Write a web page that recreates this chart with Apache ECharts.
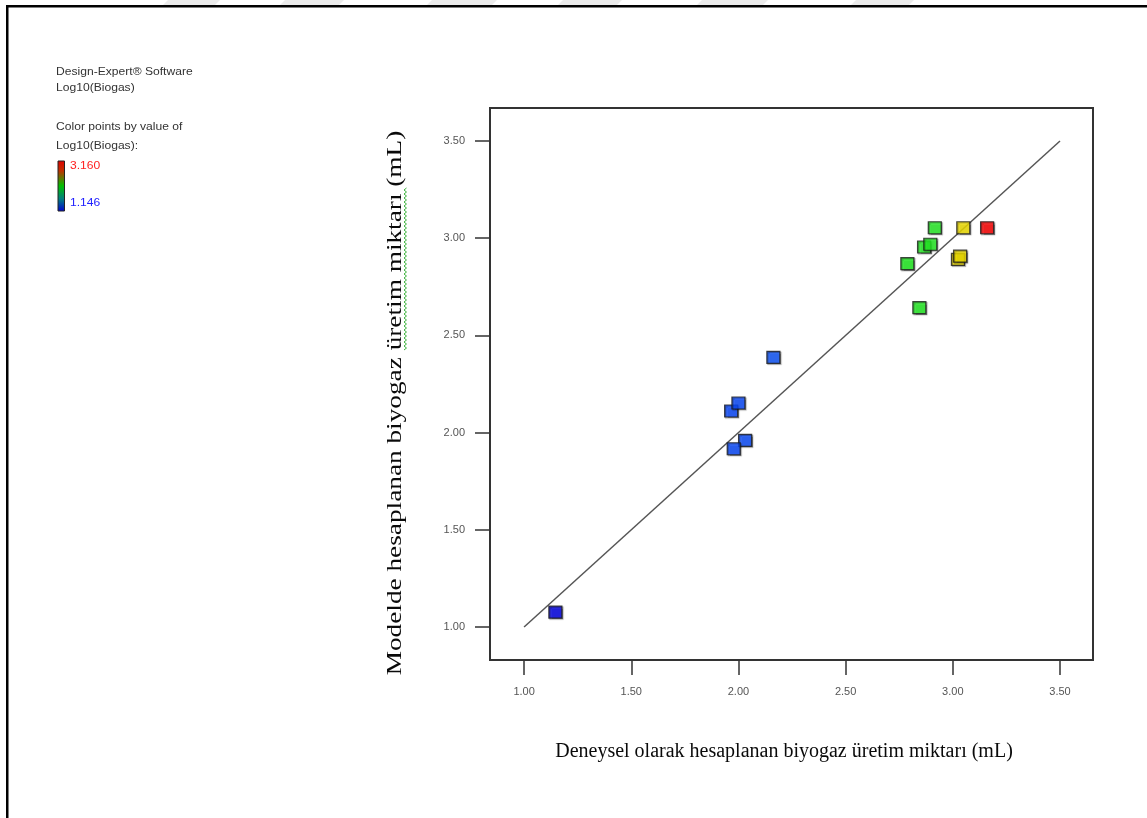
<!DOCTYPE html>
<html>
<head>
<meta charset="utf-8">
<script src="https://cdn.jsdelivr.net/npm/echarts@6/dist/echarts.min.js"></script>
<style>
  html, body { margin: 0; padding: 0; background: #ffffff; }
  #chart { width: 1147px; height: 818px; }
</style>
</head>
<body>
<div id="chart"></div>
<script>
// Log10(Biogas): experimental (x) vs. model-predicted (y)
const observed  = [1.146, 2.031, 1.978, 1.966, 2.000, 2.163, 2.788, 2.844, 2.866, 2.895, 2.916, 3.024, 3.034, 3.049, 3.160];
const predicted = [1.076, 1.960, 1.917, 2.111, 2.152, 2.387, 2.869, 2.643, 2.955, 2.969, 3.054, 2.891, 2.908, 3.054, 3.054];

// 1:1 reference line
const refLineX = [1.0, 3.5];
const refLineY = [1.0, 3.5];

// Axis ticks
const tickValues = [1.0, 1.5, 2.0, 2.5, 3.0, 3.5];
const tickLabels = ['1.00', '1.50', '2.00', '2.50', '3.00', '3.50'];

// Colour scale range
const colorMinLabel = '1.146';
const colorMaxLabel = '3.160';

// Colour ramp stops (value, colour)
const rampValues = [1.146, 1.95, 2.2, 2.7, 2.93, 3.0, 3.06, 3.16];
const rampColors = ['#0000e6', '#0848ff', '#1058ff', '#18ee18', '#28f028', '#f4e200', '#f4e200', '#ff0000'];

function hexToRgb(h) {
  return [parseInt(h.slice(1, 3), 16), parseInt(h.slice(3, 5), 16), parseInt(h.slice(5, 7), 16)];
}
function rampColor(v) {
  if (v <= rampValues[0]) return rampColors[0];
  for (let i = 1; i < rampValues.length; i++) {
    if (v <= rampValues[i]) {
      const t = (v - rampValues[i - 1]) / (rampValues[i] - rampValues[i - 1]);
      const a = hexToRgb(rampColors[i - 1]), b = hexToRgb(rampColors[i]);
      const c = a.map((ch, k) => Math.round(ch + (b[k] - ch) * t));
      return 'rgb(' + c.join(',') + ')';
    }
  }
  return rampColors[rampColors.length - 1];
}

const points = observed.map((x, i) => [x, predicted[i]]);
const refLine = refLineX.map((x, i) => [x, refLineY[i]]);

// Faint header band segments
const bandSegments = [[168, 220], [285, 344], [432, 497], [563, 622], [702, 768], [856, 914]];

const labelFmt = v => {
  const i = tickValues.findIndex(t => Math.abs(t - v) < 1e-9);
  return i >= 0 ? tickLabels[i] : '';
};

const axisCommon = {
  type: 'value',
  axisLine: { show: false, onZero: false },
  splitLine: { show: false },
  axisTick: { show: true, length: 15, customValues: tickValues, lineStyle: { color: '#333', width: 1.5 } },
  axisLabel: {
    customValues: tickValues, formatter: labelFmt,
    color: '#555', fontSize: 11, fontFamily: '"Liberation Sans", Arial, sans-serif'
  }
};

// Wavy proofing underline beneath "üretim miktarı"
const squiggle = [];
for (let y = 350, k = 0; y >= 188; y -= 2, k++) {
  squiggle.push([k % 2 === 0 ? 404 : 406.5, y]);
}

const legendFont = '11px "Liberation Sans", Arial, sans-serif';

const graphics = [];
bandSegments.forEach(s => {
  graphics.push({
    type: 'polygon', silent: true,
    shape: { points: [[s[0], 0], [s[1], 0], [s[1] - 6, 6], [s[0] - 6, 6]] },
    style: { fill: '#ebebeb' }
  });
});
graphics.push(
  { type: 'rect', silent: true, shape: { x: 6, y: 5, width: 1141, height: 2.5 }, style: { fill: '#000' } },
  { type: 'rect', silent: true, shape: { x: 6, y: 5, width: 2.5, height: 813 }, style: { fill: '#000' } },
  { type: 'text', x: 56, y: 72, scaleX: 1.1, style: { text: 'Design-Expert® Software', font: legendFont, fill: '#333', verticalAlign: 'middle' } },
  { type: 'text', x: 56, y: 88, scaleX: 1.1, style: { text: 'Log10(Biogas)', font: legendFont, fill: '#333', verticalAlign: 'middle' } },
  { type: 'text', x: 56, y: 127, scaleX: 1.1, style: { text: 'Color points by value of', font: legendFont, fill: '#333', verticalAlign: 'middle' } },
  { type: 'text', x: 56, y: 146, scaleX: 1.1, style: { text: 'Log10(Biogas):', font: legendFont, fill: '#333', verticalAlign: 'middle' } },
  {
    type: 'rect', shape: { x: 58, y: 161, width: 6.5, height: 50 },
    style: {
      stroke: '#222', lineWidth: 1,
      fill: new echarts.graphic.LinearGradient(0, 0, 0, 1, [
        { offset: 0, color: '#e00000' },
        { offset: 0.2, color: '#c03000' },
        { offset: 0.5, color: '#00c000' },
        { offset: 0.75, color: '#008080' },
        { offset: 1, color: '#0000d0' }
      ])
    }
  },
  { type: 'text', x: 70, y: 166, scaleX: 1.1, style: { text: colorMaxLabel, font: legendFont, fill: '#ff2020', verticalAlign: 'middle' } },
  { type: 'text', x: 70, y: 203, scaleX: 1.1, style: { text: colorMinLabel, font: legendFont, fill: '#2020ff', verticalAlign: 'middle' } },
  {
    type: 'text', x: 395, y: 403, rotation: Math.PI / 2, scaleX: 1.24,
    style: { text: 'Modelde hesaplanan biyogaz üretim miktarı (mL)', font: '22px "Liberation Serif", "Times New Roman", serif', fill: '#0a0a0a', align: 'center', verticalAlign: 'middle' }
  },
  { type: 'polyline', silent: true, shape: { points: squiggle }, style: { stroke: '#3cb33c', lineWidth: 1, fill: null } },
  {
    type: 'text', x: 784, y: 752,
    style: { text: 'Deneysel olarak hesaplanan biyogaz üretim miktarı (mL)', font: '20px "Liberation Serif", "Times New Roman", serif', fill: '#0a0a0a', align: 'center', verticalAlign: 'middle' }
  }
);

const chart = echarts.init(document.getElementById('chart'), null, { renderer: 'canvas' });
chart.setOption({
  animation: false,
  backgroundColor: '#ffffff',
  grid: { left: 490, top: 108, width: 603, height: 552, show: true, borderColor: '#333', borderWidth: 2, backgroundColor: 'transparent' },
  xAxis: Object.assign({}, axisCommon, { min: 0.841, max: 3.654, axisLabel: Object.assign({}, axisCommon.axisLabel, { margin: 26 }) }),
  yAxis: Object.assign({}, axisCommon, { min: 0.83, max: 3.67, axisLabel: Object.assign({}, axisCommon.axisLabel, { margin: 25 }) }),
  series: [
    {
      type: 'line', data: refLine, symbol: 'none', silent: true, z: 1,
      lineStyle: { color: '#555', width: 1.5 }
    },
    {
      type: 'scatter', data: points, symbol: 'rect', symbolSize: [13, 12], z: 3,
      itemStyle: {
        color: p => rampColor(p.value[0]),
        borderColor: '#1a1a1a', borderWidth: 1.2,
        shadowColor: 'rgba(0,0,0,0.45)', shadowOffsetX: 1, shadowOffsetY: 1, shadowBlur: 1
      }
    }
  ],
  graphic: graphics
});
</script>
</body>
</html>
